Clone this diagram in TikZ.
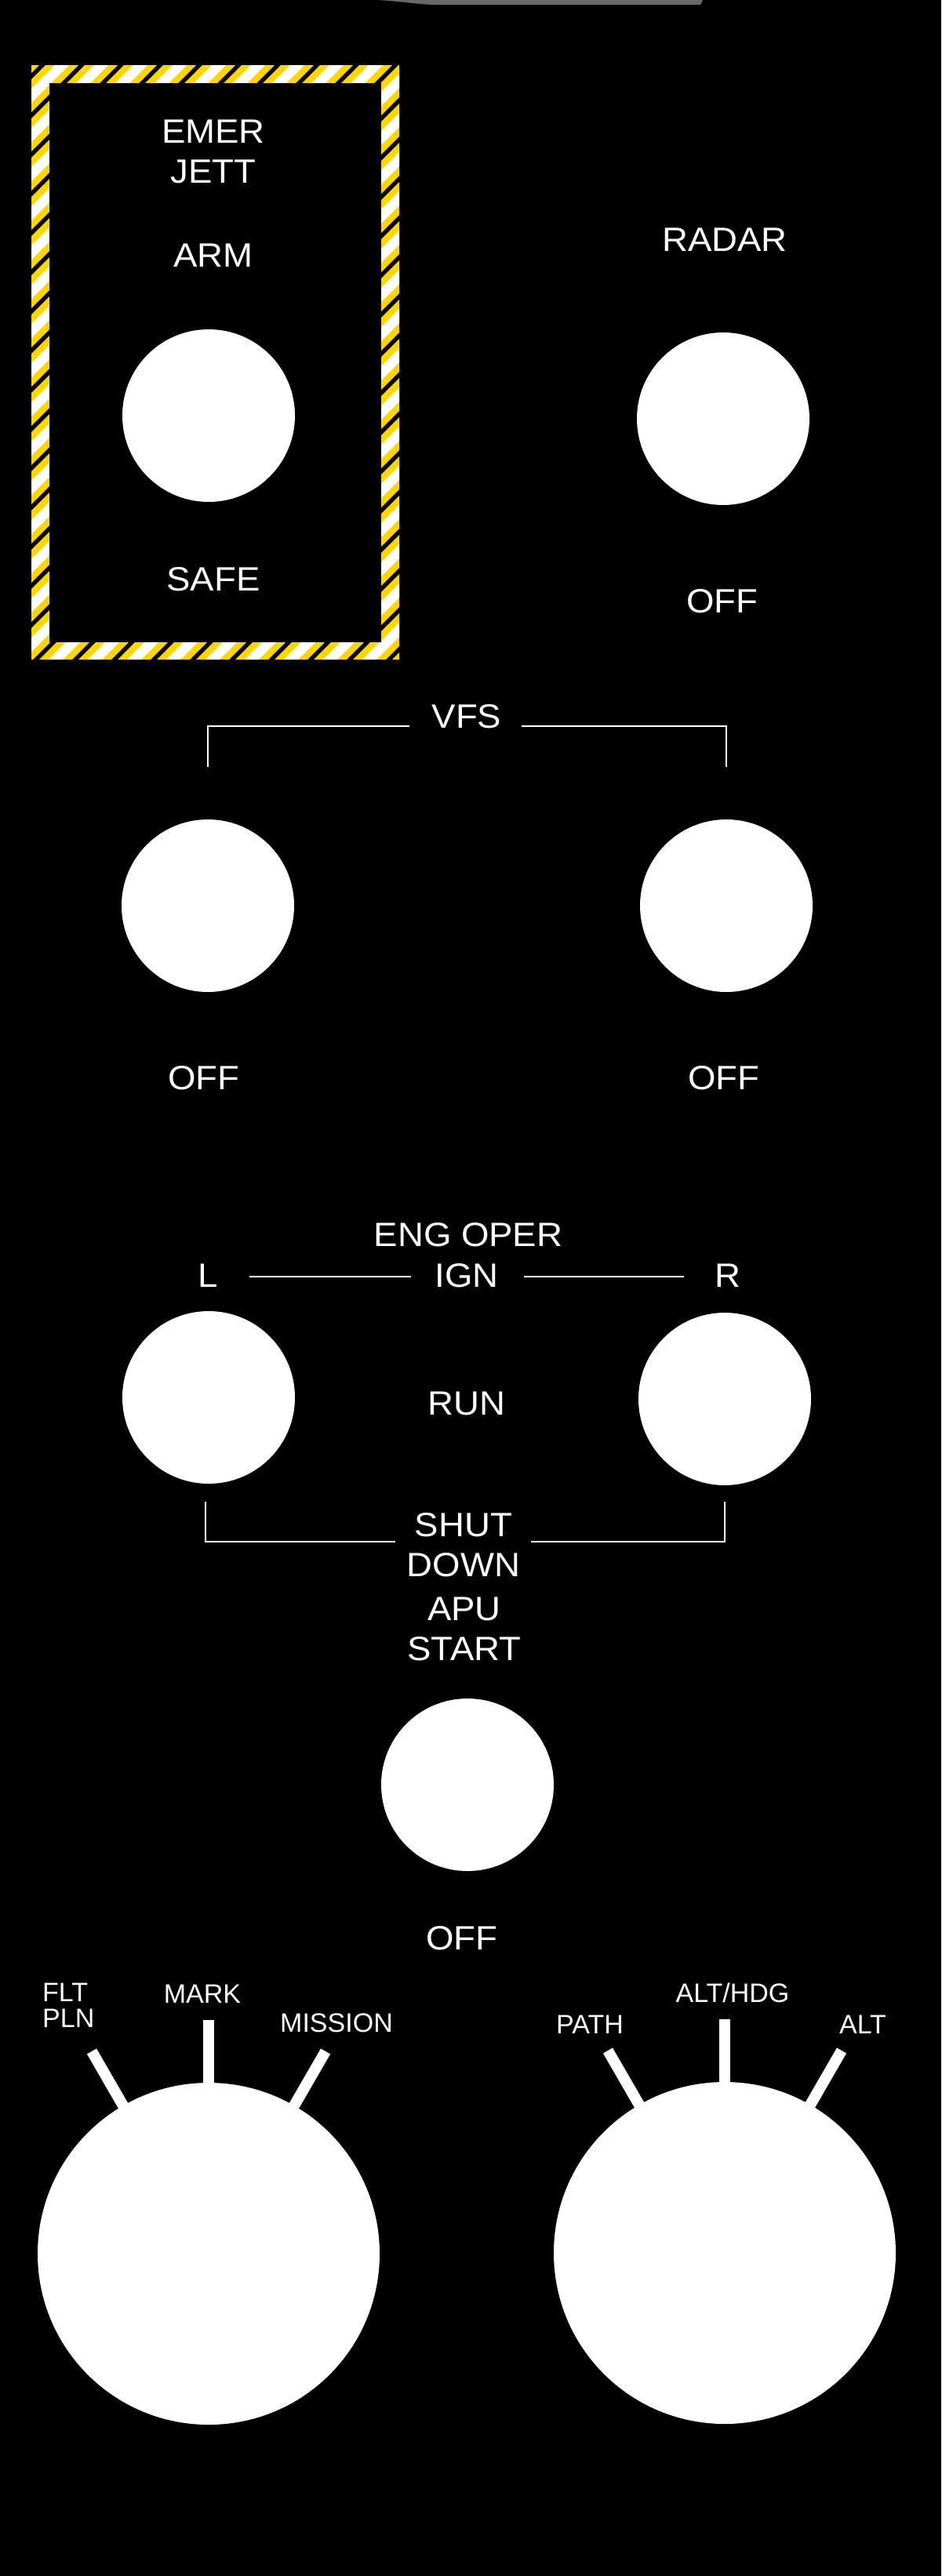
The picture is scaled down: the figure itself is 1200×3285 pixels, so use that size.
\documentclass[tikz,border=0pt]{standalone}
\usepackage{fontspec}
\setmainfont{Liberation Sans}
\newfontfamily\widelbl[FakeStretch=1.06]{Liberation Sans}
\definecolor{hazard}{RGB}{255,214,0}
\definecolor{bargray}{RGB}{105,105,105}
\begin{document}
\begin{tikzpicture}[x=1pt,y=-1pt,
  lbl/.style={text=white,anchor=base,inner sep=0pt,font=\widelbl\fontsize{43}{50}\selectfont},
  slbl/.style={text=white,anchor=base,inner sep=0pt,font=\fontsize{34}{40}\selectfont},
  knob/.style={circle,fill=white,minimum size=220pt,inner sep=0pt},
  bigknob/.style={circle,fill=white,minimum size=436pt,inner sep=0pt},
  bracket/.style={draw=white,line width=2.5pt},
  tickmark/.style={draw=white,line width=14pt}]
\fill[black] (0,0) rectangle (1200,3285);
\useasboundingbox (0,0) rectangle (1200,3285);
% top gray bar
\fill[bargray] (482,0) .. controls (515,2) and (535,6) .. (557,6) -- (893,6) -- (896,0) -- cycle;
% hazard frame
\begin{scope}
\clip (40,83) rectangle (509,841);
\foreach \k in {0,...,27} {
  \pgfmathsetmacro\s{41+50*\k}
  \fill[hazard] (\s-83,83) -- (\s+42-83,83) -- (\s+42-841,841) -- (\s-841,841) -- cycle;
  \fill[white] (\s+12-83,83) -- (\s+30-83,83) -- (\s+30-841,841) -- (\s+12-841,841) -- cycle;
}
\end{scope}
\fill[black] (63,106) rectangle (486,819);
% EMER JETT
\node[lbl] (emer) at (272,182) {EMER};
\node[lbl] (jett) at (272,233) {JETT};
\node[lbl] (arm) at (272,340) {ARM};
\node[knob] (kjett) at (266,530) {};
\node[lbl] (safe) at (272,753) {SAFE};
% RADAR
\node[lbl] (radar) at (924,320) {RADAR};
\node[knob] (kradar) at (922,534) {};
\node[lbl] (radaroff) at (921,781) {OFF};
% VFS
\node[lbl] (vfs) at (595,928) {VFS};
\coordinate (vfsL1) at (265,978);
\coordinate (vfsL2) at (265,926);
\coordinate (vfsL3) at (522,926);
\coordinate (vfsR1) at (665,926);
\coordinate (vfsR2) at (926,926);
\coordinate (vfsR3) at (926,978);
\draw[bracket] (vfsL1) -- (vfsL2) -- (vfsL3);
\draw[bracket] (vfsR1) -- (vfsR2) -- (vfsR3);
\node[knob] (kvfsl) at (265,1155) {};
\node[knob] (kvfsr) at (926,1155) {};
\node[lbl] (vfsoffl) at (260,1389) {OFF};
\node[lbl] (vfsoffr) at (923,1389) {OFF};
% ENG OPER
\node[lbl] (engoper) at (597,1589) {ENG OPER};
\node[lbl] (ign) at (595,1641) {IGN};
\node[lbl] (engl) at (265,1641) {L};
\node[lbl] (engr) at (928,1641) {R};
\coordinate (ignL1) at (318,1628);
\coordinate (ignL2) at (524,1628);
\coordinate (ignR1) at (668,1628);
\coordinate (ignR2) at (872,1628);
\draw[bracket] (ignL1) -- (ignL2);
\draw[bracket] (ignR1) -- (ignR2);
\node[knob] (kengl) at (266,1782) {};
\node[knob] (kengr) at (924,1784) {};
\node[lbl] (run) at (595,1804) {RUN};
\coordinate (sdL1) at (262,1915);
\coordinate (sdL2) at (262,1966);
\coordinate (sdL3) at (504,1966);
\coordinate (sdR1) at (677,1966);
\coordinate (sdR2) at (924,1966);
\coordinate (sdR3) at (924,1915);
\draw[bracket] (sdL1) -- (sdL2) -- (sdL3);
\draw[bracket] (sdR1) -- (sdR2) -- (sdR3);
\node[lbl] (shut) at (591,1959) {SHUT};
\node[lbl] (down) at (591,2010) {DOWN};
% APU
\node[lbl] (apu) at (592,2066) {APU};
\node[lbl] (start) at (592,2117) {START};
\node[knob] (kapu) at (596,2276) {};
\node[lbl] (apuoff) at (589,2486) {OFF};
% bottom left selector
\node[bigknob] (bkl) at (266,2874) {};
\draw[tickmark] (bkl.center) ++(-90:200) -- ++(-90:98);
\draw[tickmark] (bkl.center) ++(-120:200) -- ++(-120:98);
\draw[tickmark] (bkl.center) ++(-60:200) -- ++(-60:98);
\node[slbl,anchor=base west] (flt) at (54,2552) {FLT};
\node[slbl,anchor=base west] (pln) at (54,2585) {PLN};
\node[slbl] (mark) at (258,2554) {MARK};
\node[slbl] (mission) at (429,2591) {MISSION};
% bottom right selector
\node[bigknob] (bkr) at (924,2873) {};
\draw[tickmark] (bkr.center) ++(-90:200) -- ++(-90:98);
\draw[tickmark] (bkr.center) ++(-120:200) -- ++(-120:98);
\draw[tickmark] (bkr.center) ++(-60:200) -- ++(-60:98);
\node[slbl] (path) at (752,2593) {PATH};
\node[slbl] (althdg) at (934,2553) {ALT/HDG};
\node[slbl] (alt) at (1100,2593) {ALT};
\end{tikzpicture}
\end{document}
